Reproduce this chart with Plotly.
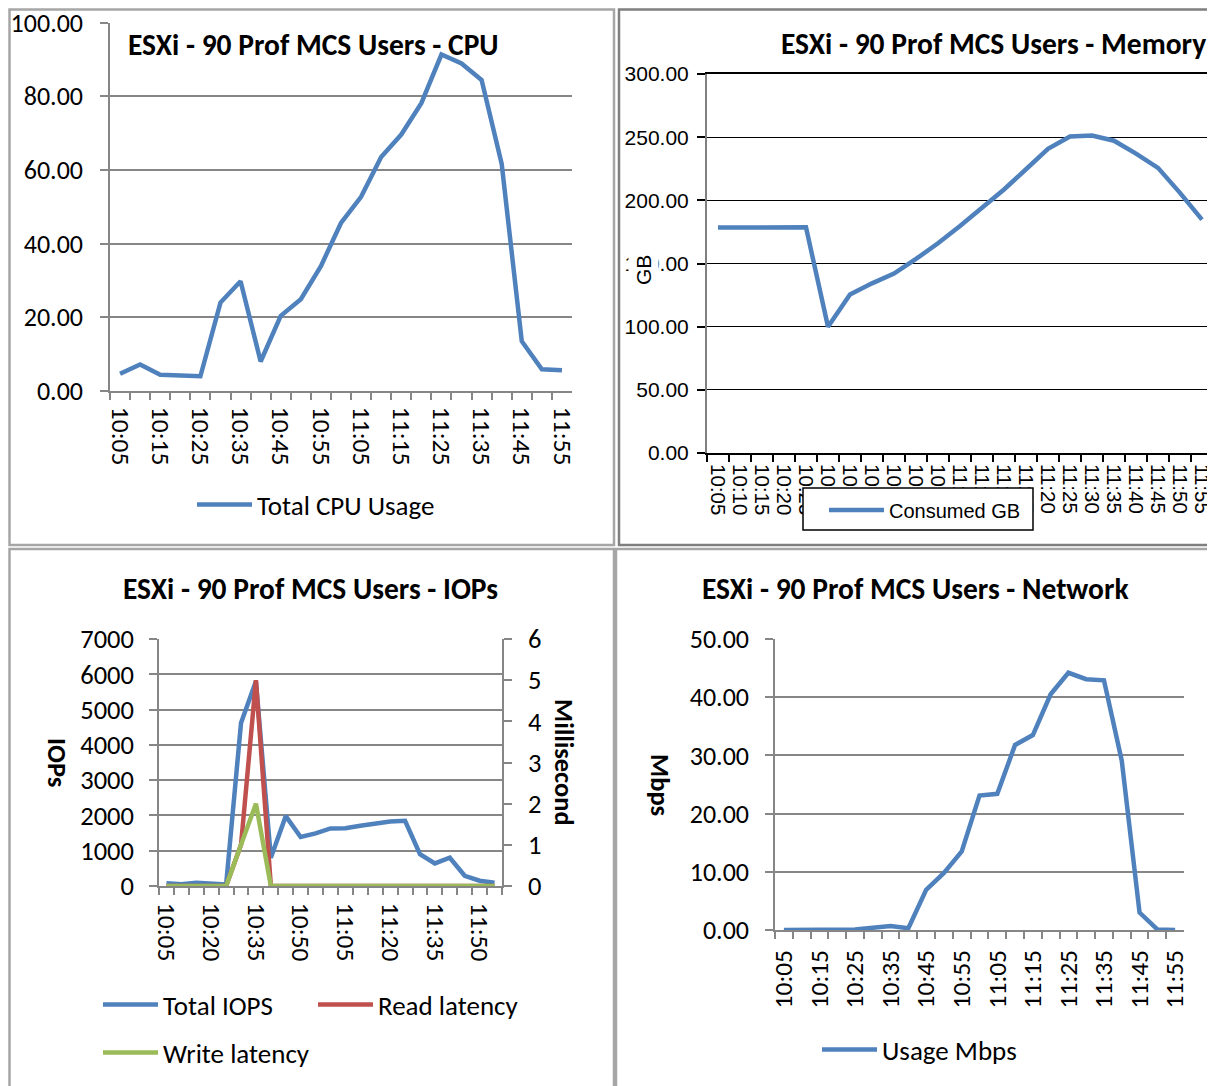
import plotly.graph_objects as go

W, H = 1215, 1086
OFF = 8  # the page body adds this margin around the figure

times = ["10:05", "10:10", "10:15", "10:20", "10:25", "10:30", "10:35", "10:40",
         "10:45", "10:50", "10:55", "11:00", "11:05", "11:10", "11:15", "11:20",
         "11:25", "11:30", "11:35", "11:40", "11:45", "11:50", "11:55"]

cpu_usage = [4.7, 7.2, 4.4, 4.2, 4.0, 24.0, 29.8, 8.0, 20.4, 24.9, 33.9, 45.6,
             52.7, 63.5, 69.6, 78.1, 91.3, 88.9, 84.4, 61.6, 13.5, 5.9, 5.6]

consumed_gb = [178.4, 178.4, 178.6, 178.6, 178.6, 99.9, 125.5, 134.3, 142.0, 153.6,
               166.0, 179.7, 194.0, 208.6, 224.6, 240.8, 250.5, 251.3, 247.2, 237.0,
               225.7, 205.9, 184.7]

total_iops = [80, 50, 90, 60, 40, 4620, 5800, 800, 1980, 1390, 1490, 1630, 1635,
              1710, 1780, 1830, 1850, 900, 640, 800, 290, 150, 90]
read_latency = [0, 0, 0, 0, 0, 1.0, 5.0, 0, 0, 0, 0, 0, 0, 0, 0, 0, 0, 0, 0, 0, 0, 0, 0]
write_latency = [0, 0, 0, 0, 0, 1.0, 2.0, 0, 0, 0, 0, 0, 0, 0, 0, 0, 0, 0, 0, 0, 0, 0, 0]

usage_mbps = [0, 0, 0, 0, 0.1, 0.4, 0.7, 0.3, 6.9, 9.8, 13.5, 23.1, 23.4, 31.8,
              33.5, 40.5, 44.2, 43.1, 42.9, 29.1, 3.0, 0.1, 0]

titles = ["ESXi - 90 Prof MCS Users - CPU", "ESXi - 90 Prof MCS Users - Memory",
          "ESXi - 90 Prof MCS Users - IOPs", "ESXi - 90 Prof MCS Users - Network"]

BLUE, RED, GREEN = "#4F81BD", "#C0504D", "#9BBB59"
GRID = "#868686"
CAL = "Carlito, Calibri, Lato, sans-serif"
ARI = "Liberation Sans, Arial, sans-serif"


def fx(p):
    return (p - OFF) / W


def fy(p):
    return 1 - (p - OFF) / H


def every(n):
    return [t if i % n == 0 else "" for i, t in enumerate(times)]


fig = go.Figure()

fig.add_trace(go.Scatter(x=times, y=cpu_usage, name="Total CPU Usage", mode="lines",
                         line=dict(color=BLUE, width=4.5), xaxis="x", yaxis="y",
                         legend="legend"))
fig.add_trace(go.Scatter(x=times, y=consumed_gb, name="Consumed GB", mode="lines",
                         line=dict(color=BLUE, width=4.5), xaxis="x2", yaxis="y2",
                         legend="legend2"))
fig.add_trace(go.Scatter(x=times, y=total_iops, name="Total IOPS", mode="lines",
                         line=dict(color=BLUE, width=4.5), xaxis="x3", yaxis="y3",
                         legend="legend3"))
fig.add_trace(go.Scatter(x=times, y=read_latency, name="Read latency", mode="lines",
                         line=dict(color=RED, width=4.5), xaxis="x3", yaxis="y5",
                         legend="legend4"))
fig.add_trace(go.Scatter(x=times, y=write_latency, name="Write latency", mode="lines",
                         line=dict(color=GREEN, width=4.5), xaxis="x3", yaxis="y5",
                         legend="legend5"))
fig.add_trace(go.Scatter(x=times, y=usage_mbps, name="Usage Mbps", mode="lines",
                         line=dict(color=BLUE, width=4.5), xaxis="x4", yaxis="y4",
                         legend="legend6"))


def xax(dom, labels, angle, font, color=GRID, standoff=8, mirror=False, lw=1.5):
    return dict(domain=[fx(dom[0]), fx(dom[1])], type="category", categoryorder="array",
                categoryarray=times, tickvals=times, ticktext=labels, tickson="boundaries",
                ticks="outside", ticklen=7, tickcolor=color, tickwidth=1.5, tickangle=angle,
                showgrid=False, showline=True, linecolor=color, linewidth=lw, mirror=mirror,
                range=[-0.5, len(times) - 0.5], tickfont=font, ticklabelstandoff=standoff,
                fixedrange=True, automargin=False, ticklabeloverflow="allow")


def yax(dom, rng, dtick, fmt, font, gridcolor=GRID, linecolor=GRID, gw=1.5, lw=1.5,
        mirror=False, standoff=6):
    return dict(domain=[fy(dom[1]), fy(dom[0])], range=rng, dtick=dtick, tickformat=fmt,
                showgrid=True, gridcolor=gridcolor, gridwidth=gw, zeroline=False,
                showline=True, linecolor=linecolor, linewidth=lw, mirror=mirror,
                ticks="outside", ticklen=8, tickcolor=gridcolor, tickwidth=1.5,
                tickfont=font, ticklabelstandoff=standoff, fixedrange=True,
                automargin=False, ticklabeloverflow="allow")


calx = dict(family=CAL, size=25.5, color="#000000")
caly = dict(family=CAL, size=26, color="#000000")
cali = dict(family=CAL, size=26.5, color="#000000")
arif = dict(family=ARI, size=21, color="#000000")

layout = dict(
    width=W, height=H, margin=dict(l=0, r=0, t=0, b=0, autoexpand=False),
    paper_bgcolor="white", plot_bgcolor="white", showlegend=True,
    xaxis=xax((110, 572), every(2), 90, calx, standoff=9),
    yaxis=yax((22.5, 391), [0, 100], 20, ".2f", caly, standoff=12),
    xaxis2=xax((707, 1213), times, 90, dict(family=ARI, size=20.5, color="#000"),
               color="#000000", standoff=5, mirror=True, lw=2),
    yaxis2=yax((74, 453), [0, 300], 50, ".2f", arif, gridcolor="#000000",
               linecolor="#808080", gw=1, lw=2, mirror=True, standoff=4),
    xaxis3=xax((159, 502), every(3), 90, calx, standoff=10),
    yaxis3=yax((639, 886), [0, 7000], 1000, "d", cali, standoff=10),
    yaxis5=dict(domain=[fy(886), fy(639)], range=[0, 6], dtick=1, overlaying="y3",
                side="right", anchor="x3", showgrid=False, zeroline=False, showline=True,
                linecolor=GRID, linewidth=1.5, ticks="outside", ticklen=8, tickcolor=GRID,
                tickwidth=1.5, tickfont=cali, ticklabelstandoff=11, fixedrange=True,
                automargin=False, ticklabeloverflow="allow"),
    xaxis4=xax((775, 1184), every(2), -90, calx, standoff=8),
    yaxis4=yax((639, 930), [0, 50], 10, ".2f", caly, standoff=11),
)
layout["xaxis"]["anchor"] = "y"
layout["yaxis"]["anchor"] = "x"
layout["xaxis2"]["anchor"] = "y2"
layout["yaxis2"]["anchor"] = "x2"
layout["xaxis3"]["anchor"] = "y3"
layout["yaxis3"]["anchor"] = "x3"
layout["xaxis4"]["anchor"] = "y4"
layout["yaxis4"]["anchor"] = "x4"


def leg(px, py, font):
    return dict(x=fx(px), y=fy(py), xanchor="left", yanchor="middle", orientation="h",
                bgcolor="rgba(0,0,0,0)", borderwidth=0, font=font, itemwidth=55)


legf = dict(family=CAL, size=27, color="#000000")
layout["legend"] = leg(192, 505, legf)
layout["legend2"] = leg(824, 510, dict(family=ARI, size=20, color="#000"))
layout["legend3"] = leg(98, 1005, legf)
layout["legend4"] = leg(313, 1005, legf)
layout["legend5"] = leg(98, 1053, legf)
layout["legend6"] = leg(817, 1050, legf)

fig.update_layout(**layout)

# panel frames (top/left edges kept just inside the figure so they stay visible)
frames = [(9.5, 9.5, 614, 545, "#A6A6A6"), (619, 9.5, 1217, 545, "#7F7F7F"),
          (9.5, 549, 614, 1090, "#A6A6A6"), (616, 549, 1217, 1090, "#A6A6A6")]
for x0, y0, x1, y1, c in frames:
    fig.add_shape(type="rect", xref="paper", yref="paper", x0=fx(x0), x1=fx(x1),
                  y0=fy(y1), y1=fy(y0), line=dict(color=c, width=2.5), layer="below")

# memory legend box (drawn above the tick labels)
fig.add_shape(type="rect", xref="paper", yref="paper", x0=fx(803), x1=fx(1033),
              y0=fy(530), y1=fy(488), line=dict(color="#000000", width=1.5),
              fillcolor="white", layer="above")

tfont = dict(family=CAL, size=29.5, color="#000000")
tb = [(126, 45, "left"), (1208, 44, "right"), (310, 589, "center"), (915, 589, "center")]
for (px, py, anc), t in zip(tb, titles):
    fig.add_annotation(text="<b>%s</b>" % t, x=fx(px), y=fy(py), xref="paper",
                       yref="paper", xanchor=anc, yanchor="middle", showarrow=False,
                       font=tfont)

# axis titles
fig.add_annotation(text="GB", x=fx(644), y=fy(270), xref="paper", yref="paper",
                   xanchor="center", yanchor="middle",
                   showarrow=False, textangle=-90, bgcolor="white",
                   font=dict(family=ARI, size=21, color="#000"), borderpad=3)
for txt, px, py in [("IOPs", 57, 762), ("Millisecond", 564, 762), ("Mbps", 660, 785)]:
    fig.add_annotation(text="<b>%s</b>" % txt, x=fx(px), y=fy(py), xref="paper",
                       yref="paper", xanchor="center", yanchor="middle",
                       showarrow=False, textangle=90,
                       font=dict(family=CAL, size=26.5, color="#000"))

fig.write_html("out.html")
